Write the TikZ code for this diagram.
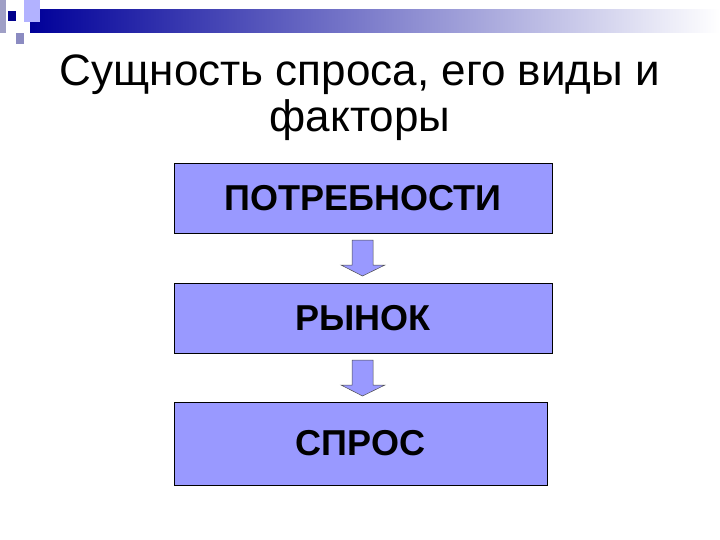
\documentclass[tikz,border=0pt]{standalone}
\usepackage{fontspec}
\setmainfont{Liberation Sans}
\begin{document}
\begin{tikzpicture}[x=1pt,y=-1pt,
 box/.style={draw=black,fill=blue!40!white,line width=0.8pt},
 btxt/.style={font=\fontsize{36}{40}\selectfont\bfseries},
 arr/.style={draw=black!70,fill=blue!40!white,line width=0.5pt}]
\useasboundingbox (0,0) rectangle (720,540);
\shade[left color=blue!60!black,right color=white] (30,10) rectangle (720,33);
\fill[blue!25!gray!60] (0,0) rectangle (6,33);
\fill[blue!30!white] (24,0) rectangle (40,22);
\fill[blue!55!black] (8,11) rectangle (16,21);
\fill[blue!30!gray!70] (16,33) rectangle (24,44);
\node[font=\fontsize{44}{46}\selectfont,align=center] (title) at (360,98) {Сущность спроса, его виды и\\факторы};
\draw[box] (174,163) rectangle (552,233) node[midway,btxt] (n1) {ПОТРЕБНОСТИ};
\draw[box] (174,283) rectangle (552,353) node[midway,btxt] (n2) {РЫНОК};
\draw[box] (174,402) rectangle (547,485) node[midway,btxt] (n3) {СПРОС};
\draw[arr] (352,240) -- (373,240) -- (373,265) -- (385,265) -- (362.5,276) -- (341,265) -- (352,265) -- cycle;
\draw[arr] (352,360) -- (373,360) -- (373,385) -- (385,385) -- (362.5,396) -- (341,385) -- (352,385) -- cycle;
\end{tikzpicture}
\end{document}
